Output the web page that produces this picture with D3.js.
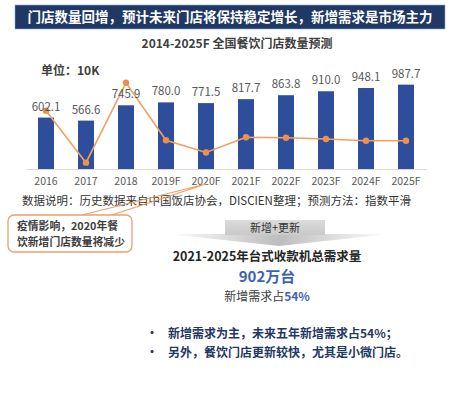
<!DOCTYPE html>
<html>
<head>
<meta charset="utf-8">
<script src="https://cdn.jsdelivr.net/npm/d3@7"></script>
<style>
  body { margin: 0; background: #fff; }
  svg { display: block; }
  text { font-family: "Noto Sans CJK SC", "Liberation Sans", sans-serif; }
</style>
</head>
<body>
<div id="chart"></div>
<script>
var years = ["2016", "2017", "2018", "2019F", "2020F", "2021F", "2022F", "2023F", "2024F", "2025F"];
var stores = [602.1, 566.6, 745.9, 780.0, 771.5, 817.7, 863.8, 910.0, 948.1, 987.7];
// growth rate (%) drawn on hidden second axis
var growth = [18.5, -5.9, 31.6, 4.6, -1.1, 6.0, 5.8, 5.2, 4.4, 4.4];
var bullets = ["新增需求为主，未来五年新增需求占54%；", "另外，餐饮门店更新较快，尤其是小微门店。"];
var calloutLines = ["疫情影响，2020年餐", "饮新增门店数量将减少"];

function drawChart() {
    var w = 450, h = 396;
    var svg = d3.select("#chart").append("svg")
        .attr("width", w)
        .attr("height", h);

    var defs = svg.append("defs");
    var g1 = defs.append("linearGradient").attr("id", "stemGrad")
        .attr("x1", 0).attr("y1", 0).attr("x2", 0).attr("y2", 1);
    g1.append("stop").attr("offset", "0%").attr("stop-color", "#dcdcdc");
    g1.append("stop").attr("offset", "100%").attr("stop-color", "#c9c9c9");
    var g2 = defs.append("linearGradient").attr("id", "headGrad")
        .attr("x1", 0).attr("y1", 0).attr("x2", 1).attr("y2", 0);
    g2.append("stop").attr("offset", "0%").attr("stop-color", "#ffffff");
    g2.append("stop").attr("offset", "50%").attr("stop-color", "#bdbdbd");
    g2.append("stop").attr("offset", "100%").attr("stop-color", "#ffffff");

    // banner
    svg.append("rect")
        .attr("x", 15).attr("y", 5)
        .attr("width", 430).attr("height", 24)
        .attr("fill", "#1f3864")
        .attr("stroke", "#8eaadb").attr("stroke-width", 0.6);
    svg.append("text")
        .attr("x", 230).attr("y", 22)
        .attr("text-anchor", "middle")
        .attr("font-size", 13.5).attr("font-weight", "bold")
        .attr("fill", "#fff")
        .text("门店数量回增，预计未来门店将保持稳定增长，新增需求是市场主力");

    svg.append("text")
        .attr("x", 237).attr("y", 47.5)
        .attr("text-anchor", "middle")
        .attr("font-size", 12).attr("font-weight", "bold")
        .attr("fill", "#404040")
        .text("2014-2025F 全国餐饮门店数量预测");

    svg.append("text")
        .attr("x", 41).attr("y", 74.5)
        .attr("font-size", 12).attr("font-weight", "bold")
        .attr("fill", "#404040")
        .text("单位：10K");

    // scales
    var x = d3.scaleBand()
        .domain(years)
        .range([26, 426])
        .paddingInner(0.6)
        .paddingOuter(0.3);
    var y = d3.scaleLinear()
        .domain([0, 1200])
        .range([169, 66.5]);
    var y2 = d3.scaleLinear()
        .domain([-10, 40])
        .range([171.4, 64.8]);

    // x axis
    var xAxis = d3.axisBottom(x).tickSize(0).tickPadding(9);
    var ax = svg.append("g")
        .attr("transform", "translate(0,169)")
        .call(xAxis);
    ax.select(".domain").attr("stroke", "#d9d9d9").attr("stroke-width", 1);
    ax.selectAll("text")
        .attr("font-family", "'Liberation Sans', sans-serif")
        .attr("font-size", 10.5)
        .attr("fill", "#595959");

    // bars
    svg.selectAll("rect.bar")
        .data(stores)
        .enter()
        .append("rect")
        .attr("class", "bar")
        .attr("x", function(d, i) { return x(years[i]); })
        .attr("y", function(d) { return y(d); })
        .attr("width", x.bandwidth())
        .attr("height", function(d) { return y(0) - y(d); })
        .attr("fill", "#2e4e9b");

    // line
    var line = d3.line()
        .x(function(d, i) { return x(years[i]) + x.bandwidth() / 2; })
        .y(function(d) { return y2(d); });
    svg.append("path")
        .datum(growth)
        .attr("d", line)
        .attr("fill", "none")
        .attr("stroke", "#f0a064")
        .attr("stroke-width", 1.6);
    svg.selectAll("circle.pt")
        .data(growth)
        .enter()
        .append("circle")
        .attr("class", "pt")
        .attr("cx", function(d, i) { return x(years[i]) + x.bandwidth() / 2; })
        .attr("cy", function(d) { return y2(d); })
        .attr("r", 3.2)
        .attr("fill", "#ee8f4a");

    // value labels
    svg.selectAll("text.val")
        .data(stores)
        .enter()
        .append("text")
        .attr("class", "val")
        .attr("x", function(d, i) { return x(years[i]) + x.bandwidth() / 2; })
        .attr("y", function(d) { return y(d) - 7; })
        .attr("text-anchor", "middle")
        .attr("font-family", "'Liberation Sans', sans-serif")
        .attr("font-size", 11.5)
        .attr("fill", "#595959")
        .text(function(d) { return d.toFixed(1); });

    // note
    svg.append("text")
        .attr("x", 22).attr("y", 205)
        .attr("font-size", 11.5)
        .attr("fill", "#333")
        .text("数据说明：历史数据来自中国饭店协会，DISCIEN整理；预测方法：指数平滑");

    // callout pointer + box
    svg.append("path")
        .attr("d", "M82,215 L206,184 L112,215")
        .attr("fill", "none")
        .attr("stroke", "#f0a064")
        .attr("stroke-width", 1.2);
    svg.append("rect")
        .attr("x", 8).attr("y", 215)
        .attr("width", 124).attr("height", 37)
        .attr("rx", 6)
        .attr("fill", "#fff")
        .attr("stroke", "#e8a070")
        .attr("stroke-width", 1.3);
    svg.selectAll("text.call")
        .data(calloutLines)
        .enter()
        .append("text")
        .attr("class", "call")
        .attr("x", 17)
        .attr("y", function(d, i) { return 229.5 + i * 16; })
        .attr("font-size", 10.8).attr("font-weight", "bold")
        .attr("fill", "#404040")
        .text(function(d) { return d; });

    // down arrow
    svg.append("path")
        .attr("d", "M168,234 L390,234 L279,246 Z")
        .attr("fill", "url(#headGrad)");
    svg.append("rect")
        .attr("x", 225).attr("y", 220)
        .attr("width", 100).attr("height", 15)
        .attr("fill", "url(#stemGrad)");
    svg.append("text")
        .attr("x", 275).attr("y", 232)
        .attr("text-anchor", "middle")
        .attr("font-size", 11)
        .attr("fill", "#333")
        .text("新增+更新");

    // summary
    svg.append("text")
        .attr("x", 267).attr("y", 261)
        .attr("text-anchor", "middle")
        .attr("font-size", 12.5).attr("font-weight", "bold")
        .attr("fill", "#262626")
        .text("2021-2025年台式收款机总需求量");
    svg.append("text")
        .attr("x", 267).attr("y", 282)
        .attr("text-anchor", "middle")
        .attr("font-size", 15).attr("font-weight", "bold")
        .attr("fill", "#3d62b8")
        .text("902万台");
    var t = svg.append("text")
        .attr("x", 267).attr("y", 300.5)
        .attr("text-anchor", "middle")
        .attr("font-size", 12)
        .attr("fill", "#404040");
    t.append("tspan").text("新增需求占");
    t.append("tspan").attr("fill", "#3d62b8").attr("font-weight", "bold").text("54%");

    // bullets
    bullets.forEach(function(b, i) {
        svg.append("text")
            .attr("x", 146).attr("y", 338 + i * 19)
            .attr("font-size", 12).attr("font-weight", "bold")
            .attr("fill", "#1f3864")
            .text("•");
        svg.append("text")
            .attr("x", 168).attr("y", 338 + i * 19)
            .attr("font-size", 12).attr("font-weight", "bold")
            .attr("fill", "#1f3864")
            .text(b);
    });
}

window.onload = drawChart;
</script>
</body>
</html>
